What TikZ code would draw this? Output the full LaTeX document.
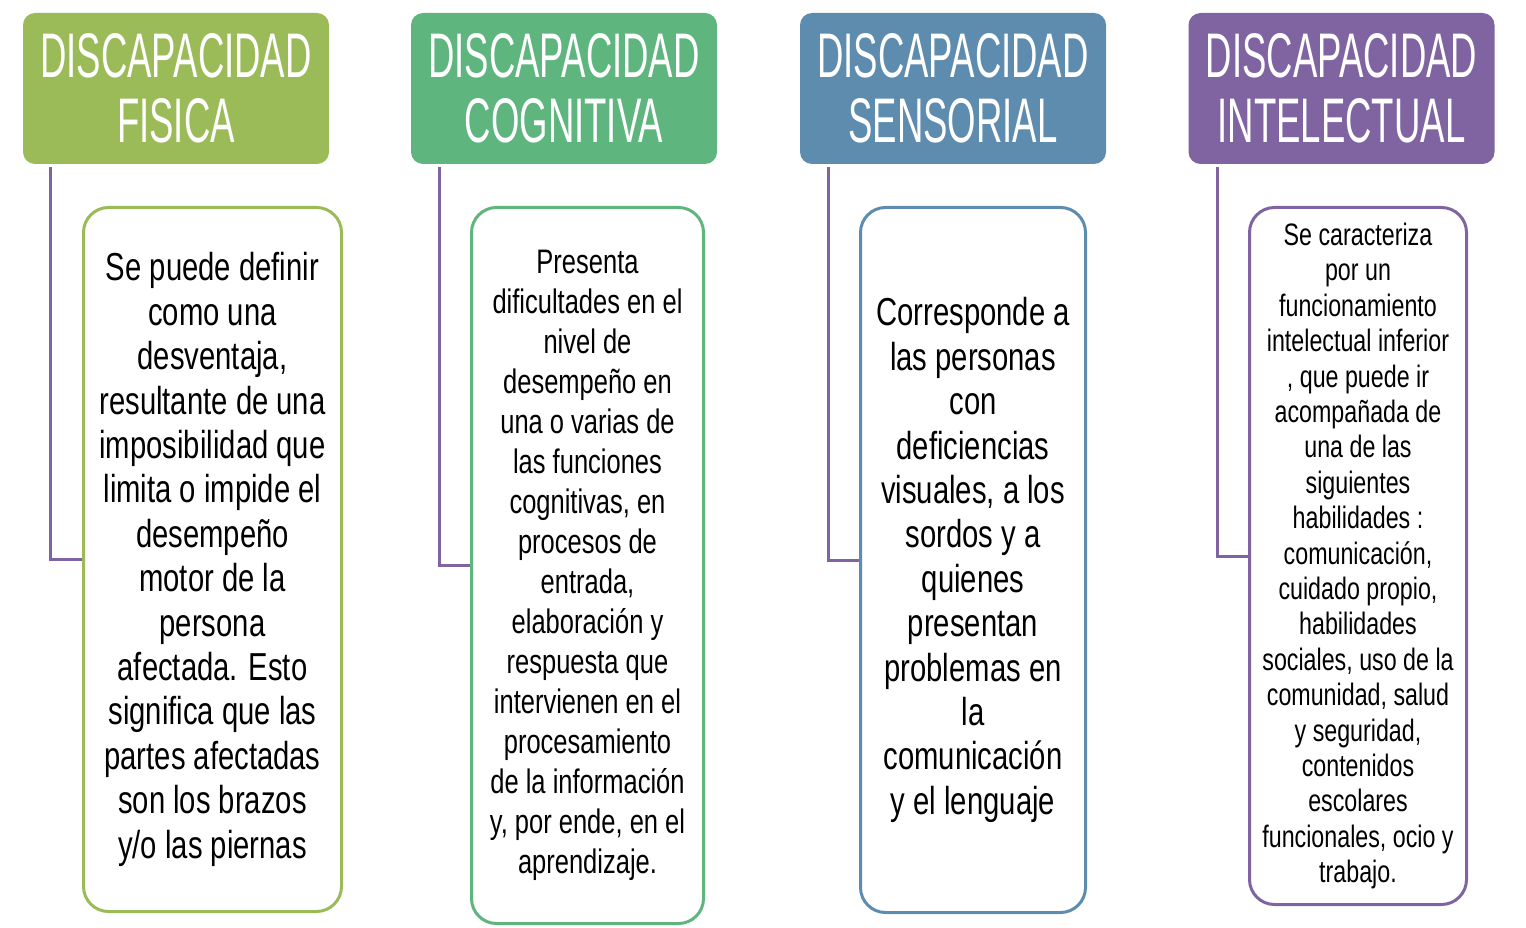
\documentclass[tikz,border=0pt]{standalone}
\usepackage{fontspec}
\setmainfont{Liberation Sans}[FakeStretch=0.75]
\newfontfamily\headfont{Liberation Sans}[FakeStretch=0.58]
\usepackage{tikz}
\usetikzlibrary{positioning}
\usetikzlibrary{arrows}

\definecolor{cfis}{HTML}{9BBB59}
\definecolor{ccog}{HTML}{5EB67E}
\definecolor{csen}{HTML}{5E8CAE}
\definecolor{cint}{HTML}{8064A2}

\begin{document}
\begin{tikzpicture}[x=1pt, y=-1pt,
    head/.style = {rounded corners=12pt, minimum width=306pt, minimum height=151pt, inner sep=0pt, text=white, align=center, font=\headfont\fontsize{63}{65}\selectfont},
    box/.style = {draw, line width=3pt, rounded corners=25pt, fill=white, inner sep=0pt, align=center},
    link/.style = {draw=cint, line width=3pt}]
    \useasboundingbox (0,0) rectangle (1526,928);

    \node[head, fill=cfis] (fis) at (176,88.5) {DISCAPACIDAD\\FISICA};
    \node[head, fill=ccog] (cog) at (564,88.5) {DISCAPACIDAD\\COGNITIVA};
    \node[head, fill=csen] (sen) at (953,88.5) {DISCAPACIDAD\\SENSORIAL};
    \node[head, fill=cint] (int) at (1341.5,88.5) {DISCAPACIDAD\\INTELECTUAL};

    \node[box, draw=cfis, minimum width=258pt, minimum height=704pt, font=\fontsize{39}{44.4}\selectfont] (fisbox) at (212.5,559.5)
        {Se puede definir\\como una\\desventaja,\\resultante de una\\imposibilidad que\\limita o impide el\\desempeño\\motor de la\\persona\\afectada. Esto\\significa que las\\partes afectadas\\son los brazos\\y/o las piernas};
    \node[box, draw=ccog, minimum width=232pt, minimum height=716pt, font=\fontsize{34}{40}\selectfont] (cogbox) at (587.5,565.5)
        {Presenta\\dificultades en el\\nivel de\\desempeño en\\una o varias de\\las funciones\\cognitivas, en\\procesos de\\entrada,\\elaboración y\\respuesta que\\intervienen en el\\procesamiento\\de la información\\y, por ende, en el\\aprendizaje.};
    \node[box, draw=csen, minimum width=225pt, minimum height=705pt, font=\fontsize{39}{44.4}\selectfont] (senbox) at (973,560)
        {Corresponde a\\las personas\\con\\deficiencias\\visuales, a los\\sordos y a\\quienes\\presentan\\problemas en\\la\\comunicación\\y el lenguaje};
    \node[box, draw=cint, minimum width=217pt, minimum height=697pt, font=\fontsize{31}{35.4}\selectfont] (intbox) at (1358,556)
        {Se caracteriza\\por un\\funcionamiento\\intelectual inferior\\, que puede ir\\acompañada de\\una de las\\siguientes\\habilidades :\\comunicación,\\cuidado propio,\\habilidades\\sociales, uso de la\\comunidad, salud\\y seguridad,\\contenidos\\escolares\\funcionales, ocio y\\trabajo.};

    \draw[link] ([xshift=28pt, yshift=-3pt]fis.south west) |- (fisbox.west);
    \draw[link] ([xshift=29pt, yshift=-3pt]cog.south west) |- (cogbox.west);
    \draw[link] ([xshift=29pt, yshift=-3pt]sen.south west) |- (senbox.west);
    \draw[link] ([xshift=29pt, yshift=-3pt]int.south west) |- (intbox.west);

\end{tikzpicture}
\end{document}
